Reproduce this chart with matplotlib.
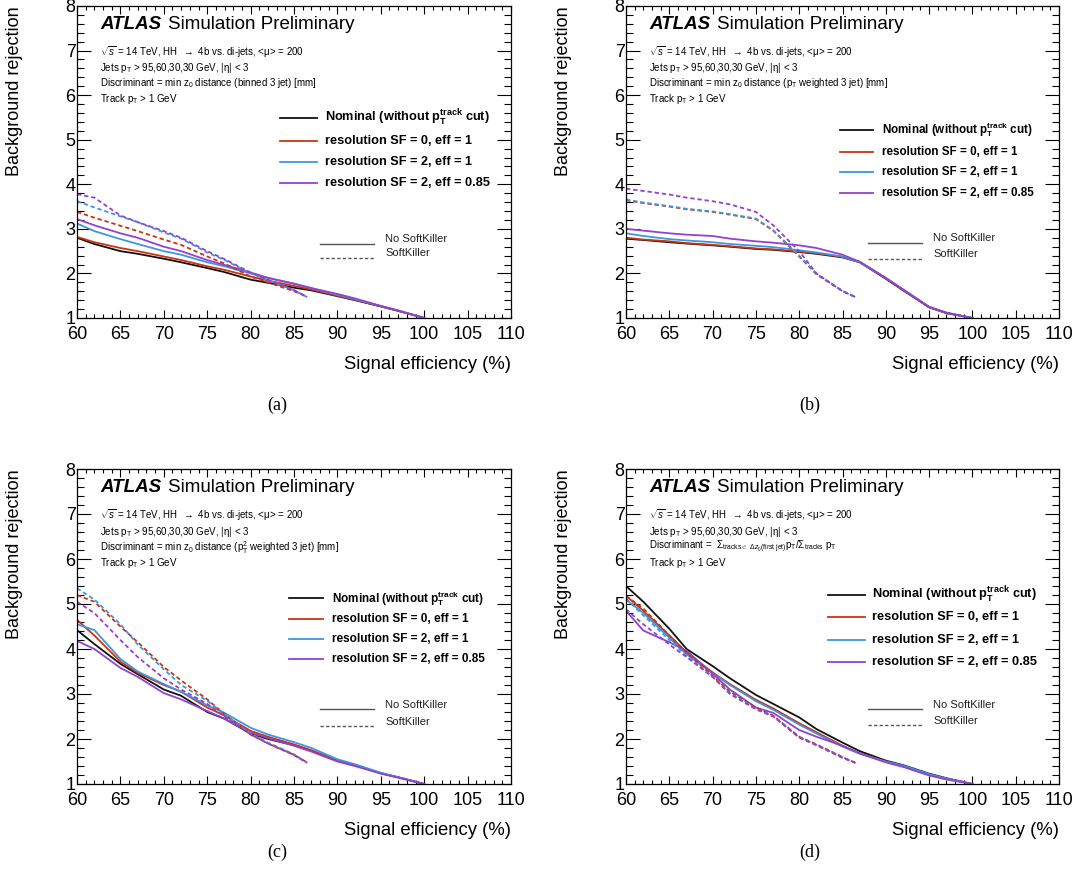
import matplotlib.pyplot as plt
from matplotlib.ticker import MultipleLocator

plt.rcParams['font.family'] = ['Liberation Sans', 'DejaVu Sans']
plt.rcParams['mathtext.fontset'] = 'custom'
plt.rcParams['mathtext.rm'] = 'Liberation Sans'
plt.rcParams['mathtext.it'] = 'Liberation Sans:italic'
plt.rcParams['mathtext.bf'] = 'Liberation Sans:bold'
plt.rcParams['mathtext.sf'] = 'Liberation Sans'

# ============================
# Data
# ============================
EFF_NOSK = [60, 62, 65, 67, 70, 72, 75, 77, 80, 82, 85, 87, 90, 92, 95, 97, 100]
EFF_SK = [60, 62, 65, 67, 70, 72, 75, 77, 80, 82, 85, 86.5]

# (a) binned 3 jet
A_NOM = [2.80, 2.66, 2.50, 2.44, 2.33, 2.25, 2.12, 2.03, 1.86, 1.79, 1.68, 1.62, 1.49, 1.40, 1.26, 1.16, 1.0]
A_SF0 = [2.82, 2.70, 2.57, 2.50, 2.38, 2.30, 2.16, 2.08, 1.93, 1.84, 1.72, 1.64, 1.50, 1.41, 1.26, 1.16, 1.0]
A_SF2 = [3.12, 2.95, 2.77, 2.66, 2.50, 2.42, 2.25, 2.16, 2.00, 1.90, 1.77, 1.67, 1.52, 1.42, 1.27, 1.17, 1.0]
A_SF2E = [3.22, 3.08, 2.90, 2.80, 2.60, 2.50, 2.30, 2.19, 2.02, 1.90, 1.77, 1.67, 1.54, 1.44, 1.27, 1.17, 1.0]
A_SF0_SK = [3.38, 3.25, 3.07, 2.95, 2.76, 2.64, 2.38, 2.22, 1.93, 1.80, 1.60, 1.48]
A_SF2_SK = [3.62, 3.48, 3.28, 3.15, 2.92, 2.78, 2.47, 2.30, 2.00, 1.85, 1.62, 1.47]
A_SF2E_SK = [3.78, 3.70, 3.30, 3.15, 2.95, 2.80, 2.50, 2.32, 2.02, 1.86, 1.63, 1.47]

# (b) pT weighted 3 jet
B_NOM = [2.78, 2.75, 2.70, 2.67, 2.63, 2.60, 2.55, 2.53, 2.48, 2.44, 2.36, 2.25, 1.88, 1.62, 1.24, 1.11, 1.0]
B_SF0 = [2.80, 2.76, 2.72, 2.68, 2.64, 2.61, 2.56, 2.54, 2.49, 2.45, 2.37, 2.26, 1.89, 1.63, 1.24, 1.11, 1.0]
B_SF2 = [2.90, 2.84, 2.77, 2.74, 2.70, 2.66, 2.62, 2.59, 2.52, 2.47, 2.38, 2.25, 1.90, 1.64, 1.25, 1.12, 1.0]
B_SF2E = [3.00, 2.96, 2.90, 2.87, 2.84, 2.78, 2.72, 2.69, 2.63, 2.57, 2.42, 2.26, 1.90, 1.64, 1.25, 1.12, 1.0]
B_SF0_SK = [3.64, 3.58, 3.50, 3.44, 3.38, 3.32, 3.22, 2.96, 2.38, 1.98, 1.60, 1.47]
B_SF2_SK = [3.66, 3.59, 3.51, 3.45, 3.39, 3.33, 3.23, 2.97, 2.40, 1.99, 1.61, 1.47]
B_SF2E_SK = [3.90, 3.85, 3.77, 3.70, 3.62, 3.55, 3.38, 3.08, 2.50, 2.00, 1.60, 1.47]

# (c) pT^2 weighted 3 jet
C_NOM = [4.42, 4.11, 3.67, 3.44, 3.10, 2.96, 2.60, 2.45, 2.12, 2.00, 1.86, 1.74, 1.52, 1.42, 1.24, 1.15, 1.0]
C_SF0 = [4.65, 4.30, 3.72, 3.47, 3.20, 3.05, 2.70, 2.52, 2.18, 2.05, 1.88, 1.75, 1.52, 1.42, 1.24, 1.15, 1.0]
C_SF2 = [4.55, 4.42, 3.78, 3.50, 3.22, 3.05, 2.75, 2.58, 2.25, 2.10, 1.93, 1.80, 1.55, 1.44, 1.25, 1.15, 1.0]
C_SF2E = [4.18, 4.00, 3.58, 3.38, 3.02, 2.88, 2.62, 2.45, 2.14, 2.02, 1.85, 1.72, 1.50, 1.40, 1.23, 1.14, 1.0]
C_SF0_SK = [5.20, 5.05, 4.50, 4.15, 3.60, 3.30, 2.88, 2.55, 2.10, 1.90, 1.65, 1.48]
C_SF2_SK = [5.35, 5.10, 4.55, 4.10, 3.55, 3.20, 2.85, 2.55, 2.12, 1.92, 1.66, 1.47]
C_SF2E_SK = [5.05, 4.80, 4.20, 3.82, 3.35, 3.10, 2.78, 2.50, 2.10, 1.90, 1.64, 1.47]

# (d) pT fraction around first jet
D_NOM = [5.40, 5.05, 4.45, 4.00, 3.62, 3.35, 2.98, 2.78, 2.48, 2.22, 1.92, 1.73, 1.52, 1.42, 1.23, 1.13, 1.0]
D_SF0 = [5.18, 4.85, 4.30, 3.92, 3.48, 3.22, 2.87, 2.68, 2.35, 2.15, 1.85, 1.68, 1.50, 1.40, 1.21, 1.12, 1.0]
D_SF2 = [5.10, 4.80, 4.25, 3.88, 3.46, 3.20, 2.84, 2.65, 2.32, 2.12, 1.83, 1.67, 1.50, 1.41, 1.22, 1.12, 1.0]
D_SF2E = [4.85, 4.41, 4.15, 3.96, 3.45, 3.10, 2.70, 2.58, 2.20, 2.05, 1.85, 1.68, 1.48, 1.38, 1.19, 1.10, 1.0]
D_SF0_SK = [5.18, 4.90, 4.30, 3.92, 3.40, 3.05, 2.70, 2.52, 2.05, 1.88, 1.60, 1.47]
D_SF2_SK = [5.12, 4.75, 4.20, 3.85, 3.38, 3.02, 2.67, 2.51, 2.04, 1.87, 1.59, 1.47]
D_SF2E_SK = [4.88, 4.55, 4.10, 3.82, 3.38, 3.00, 2.66, 2.50, 2.03, 1.86, 1.58, 1.47]

LEGEND_LABELS = [
    r'Nominal (without $\mathbf{p}_\mathbf{T}^\mathbf{track}$ cut)',
    'resolution SF = 0, eff = 1',
    'resolution SF = 2, eff = 1',
    'resolution SF = 2, eff = 0.85',
]
COLORS = ['#111111', '#cc3311', '#3d96e0', '#9440d0']
SK_COLORS = COLORS[1:]

DISCRIMINANTS = [
    r'Discriminant = min z$_0$ distance (binned 3 jet) [mm]',
    r'Discriminant = min z$_0$ distance (p$_\mathrm{T}$ weighted 3 jet) [mm]',
    r'Discriminant = min z$_0$ distance (p$_\mathrm{T}^2$ weighted 3 jet) [mm]',
    r'Discriminant =  $\Sigma_{\mathrm{tracks}\in\ \Delta z_0(\mathrm{first\ jet})}$p$_\mathrm{T}$/$\Sigma_\mathrm{tracks}$ p$_\mathrm{T}$',
]
CAPTIONS = ['(a)', '(b)', '(c)', '(d)']

PANELS = [
    ([A_NOM, A_SF0, A_SF2, A_SF2E], [A_SF0_SK, A_SF2_SK, A_SF2E_SK]),
    ([B_NOM, B_SF0, B_SF2, B_SF2E], [B_SF0_SK, B_SF2_SK, B_SF2E_SK]),
    ([C_NOM, C_SF0, C_SF2, C_SF2E], [C_SF0_SK, C_SF2_SK, C_SF2E_SK]),
    ([D_NOM, D_SF0, D_SF2, D_SF2E], [D_SF0_SK, D_SF2_SK, D_SF2E_SK]),
]

# ============================
# Layout (pixels of a 1086x890 canvas)
# ============================
W, H = 1086, 890
AX_BOXES = [(77, 6, 434, 312), (626, 6, 433, 312), (77, 469, 434, 315), (626, 469, 433, 315)]
CAPTION_POS = [(277, 405), (810, 405), (277, 852), (810, 852)]
# legend: line x0, x1, text x, row y (axes fractions), fontsize
LEG_CFG = [
    (0.468, 0.553, 0.571, [0.641, 0.567, 0.500, 0.433], 9.2),
    (0.494, 0.570, 0.591, [0.603, 0.532, 0.468, 0.401], 8.4),
    (0.488, 0.567, 0.588, [0.590, 0.524, 0.460, 0.397], 8.5),
    (0.467, 0.552, 0.568, [0.600, 0.530, 0.457, 0.387], 9.2),
]
SK_ROWS = [(0.238, 0.193), (0.241, 0.190), (0.238, 0.184), (0.238, 0.187)]
DASH = (0, (2.4, 1.6))


def draw_panel(ax, nosk, sk, discr, leg, sk_rows):
    for y, c in zip(nosk, COLORS):
        ax.plot(EFF_NOSK, y, color=c, lw=1.3, solid_joinstyle='round')
    for y, c in zip(sk, SK_COLORS):
        ax.plot(EFF_SK, y, color=c, lw=1.3, linestyle=DASH)

    ax.set_xlim(60, 110)
    ax.set_ylim(1, 8)
    ax.xaxis.set_major_locator(MultipleLocator(5))
    ax.xaxis.set_minor_locator(MultipleLocator(1))
    ax.yaxis.set_major_locator(MultipleLocator(1))
    ax.yaxis.set_minor_locator(MultipleLocator(0.2))
    ax.tick_params(axis='both', which='both', direction='in', top=True, right=True,
                   width=0.8, labelsize=13)
    ax.tick_params(axis='x', which='major', length=6, pad=6)
    ax.tick_params(axis='x', which='minor', length=3)
    ax.tick_params(axis='y', which='major', length=10, pad=1)
    ax.tick_params(axis='y', which='minor', length=5)
    for s in ax.spines.values():
        s.set_linewidth(0.9)

    ax.set_xlabel('Signal efficiency (%)', fontsize=13.3, loc='right', labelpad=9)
    ax.set_ylabel('Background rejection', fontsize=13, loc='top')
    ax.yaxis.set_label_coords(-0.124, 1.0)

    tr = ax.transAxes
    ax.text(0.053, 0.94, 'ATLAS', transform=tr, fontsize=13.5, fontweight='bold',
            style='italic', va='center')
    ax.text(0.210, 0.94, 'Simulation Preliminary', transform=tr, fontsize=13.5, va='center')
    info = [
        r'$\sqrt{s}$ = 14 TeV, HH  $\rightarrow$ 4b vs. di-jets, <μ> = 200',
        r'Jets p$_\mathrm{T}$ > 95,60,30,30 GeV, |η| < 3',
        discr,
        r'Track p$_\mathrm{T}$ > 1 GeV',
    ]
    for txt, yy in zip(info, [0.852, 0.801, 0.752, 0.701]):
        ax.text(0.053, yy, txt, transform=tr, fontsize=7, va='center')

    x0, x1, xt, rows, fs = leg
    for lab, c, yy in zip(LEGEND_LABELS, COLORS, rows):
        ax.plot([x0, x1], [yy, yy], transform=tr, color=c, lw=1.3)
        ax.text(xt, yy, lab, transform=tr, fontsize=fs, fontweight='bold', va='center')

    for (yy, ls, lab) in zip(sk_rows, ['-', DASH], ['No SoftKiller', 'SoftKiller']):
        ax.plot([0.560, 0.684], [yy, yy], transform=tr, color='#555555', lw=1.0, linestyle=ls)
        ax.text(0.710, yy + 0.014, lab, transform=tr, fontsize=8, va='center', color='#222222')


fig = plt.figure(figsize=(W / 100, H / 100), dpi=100)
for i, (nosk, sk) in enumerate(PANELS):
    l, t, w, h = AX_BOXES[i]
    ax = fig.add_axes([l / W, 1 - (t + h) / H, w / W, h / H])
    draw_panel(ax, nosk, sk, DISCRIMINANTS[i], LEG_CFG[i], SK_ROWS[i])
    cx, cy = CAPTION_POS[i]
    fig.text(cx / W, 1 - cy / H, CAPTIONS[i], fontsize=13, ha='center', va='center',
             family=['Liberation Serif', 'DejaVu Serif'])

fig.savefig('out.png', dpi=100, facecolor='white')
